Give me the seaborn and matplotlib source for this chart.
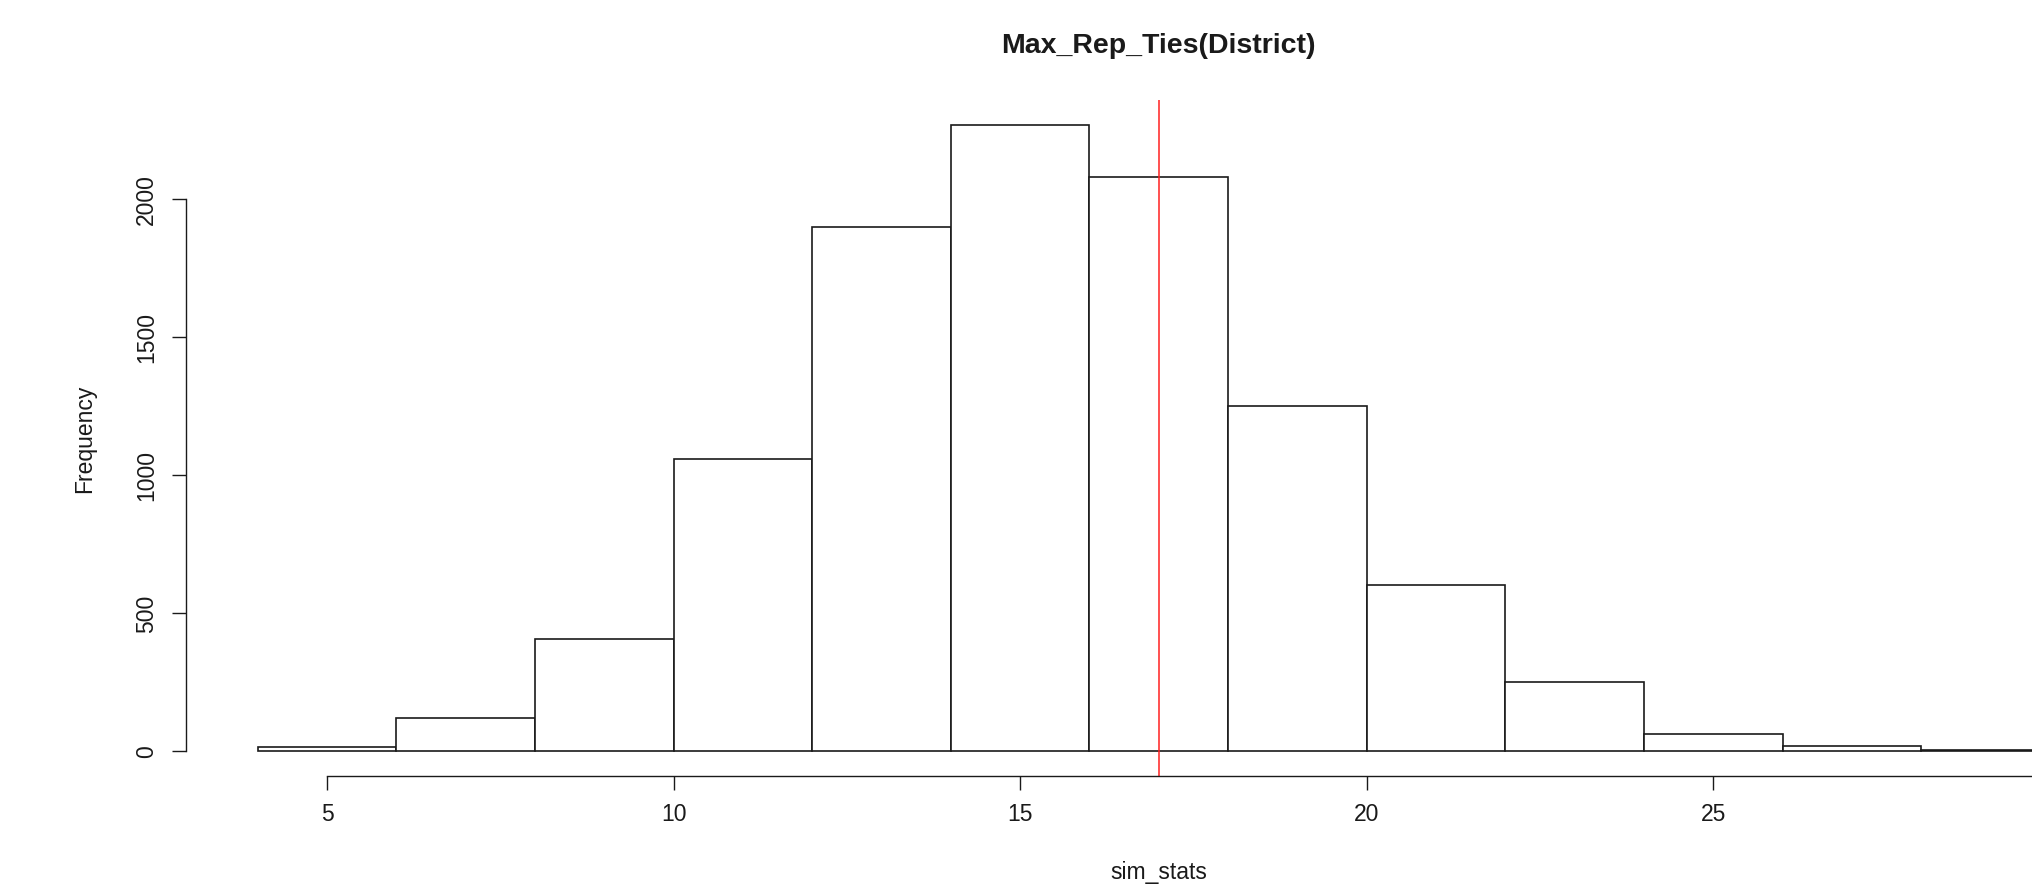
"""
Histogram of simulated Max_Rep_Ties(District) statistics with observed value marked.
"""

import matplotlib
matplotlib.use("Agg")
import matplotlib.pyplot as plt
import numpy as np
import seaborn as sns

# bin edges (width 2) and counts
bin_edges = [4, 6, 8, 10, 12, 14, 16, 18, 20, 22, 24, 26, 28, 30]
counts = [15, 119, 406, 1057, 1896, 2268, 2080, 1249, 602, 248, 60, 17, 4]
observed = 17
x_ticks = [5, 10, 15, 20, 25]  # the 30 tick falls outside the cropped image
y_ticks = [0, 500, 1000, 1500, 2000]
title = "Max_Rep_Ties(District)"
x_label = "sim_stats"
y_label = "Frequency"

sns.set_style("white")
plt.rcParams["font.family"] = ["Liberation Sans", "DejaVu Sans"]

W, H = 2033, 887
fig = plt.figure(figsize=(W / 100, H / 100), dpi=100)
ax = fig.add_axes([185.6 / W, 1 - 776.7 / H, 1946.3 / W, 676.0 / H])

mids = (np.array(bin_edges[:-1]) + np.array(bin_edges[1:])) / 2
sns.histplot(
    x=mids, weights=counts, bins=bin_edges, ax=ax,
    color="white", edgecolor="#1a1a1a", linewidth=1.2, alpha=1,
)
ax.axvline(observed, color="#ff2020", linewidth=1.1)

# R-style extended ranges (4% each side)
ax.set_xlim(4 - 0.04 * 26, 30 + 0.04 * 26)
ymax = max(counts)
ax.set_ylim(-0.04 * ymax, 1.04 * ymax)

ax.set_xticks(x_ticks)
ax.set_yticks(y_ticks)
ax.set_xticklabels([str(t) for t in x_ticks])
ax.set_yticklabels([str(t) for t in y_ticks], rotation=90, va="center")
ax.tick_params(axis="both", direction="out", length=10, width=1.0,
               color="#1a1a1a", labelsize=16.5, labelcolor="#1a1a1a",
               bottom=True, left=True)
ax.tick_params(axis="x", pad=9)
ax.tick_params(axis="y", pad=10)

for side in ["top", "right"]:
    ax.spines[side].set_visible(False)
ax.spines["left"].set_bounds(0, 2000)
ax.spines["bottom"].set_bounds(5, 30)
for side in ["left", "bottom"]:
    ax.spines[side].set_color("#1a1a1a")
    ax.spines[side].set_linewidth(1.0)
ax.set_xlabel("")
ax.set_ylabel("")

cx = (185.6 + 2131.9) / 2 / W
fig.text(cx, 1 - 46 / H, title, ha="center", va="center",
         fontsize=20.5, fontweight="bold", color="#1a1a1a")
fig.text(cx, 1 - 873 / H, x_label, ha="center", va="center",
         fontsize=16.5, color="#1a1a1a")
fig.text(85 / W, 1 - 438.5 / H, y_label, ha="center", va="center",
         rotation=90, fontsize=16.5, color="#1a1a1a")

fig.savefig("out.png", dpi=100, facecolor="white")
